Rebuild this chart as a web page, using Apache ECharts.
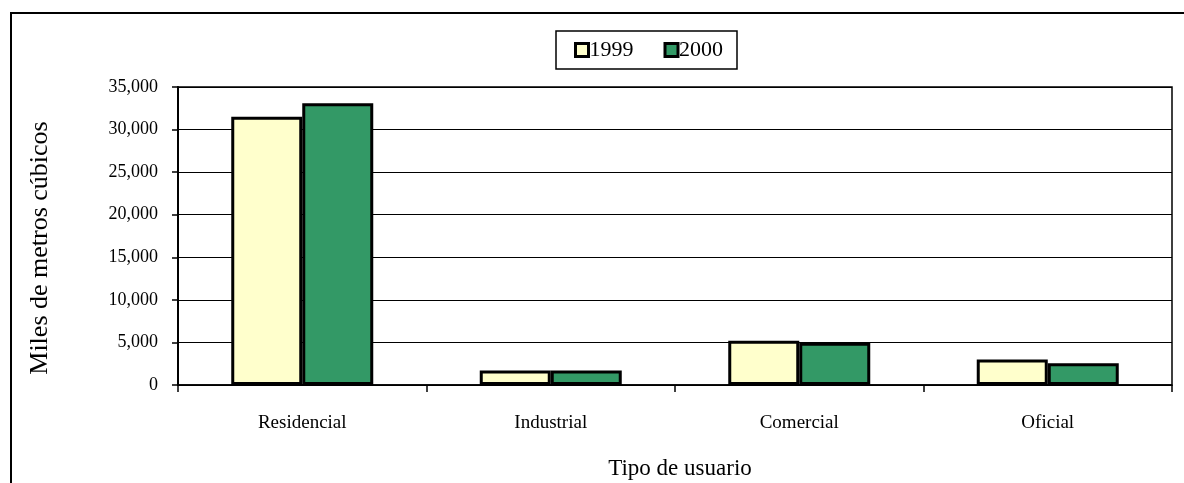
<!DOCTYPE html>
<html>
<head>
<meta charset="utf-8">
<script src="https://cdn.jsdelivr.net/npm/echarts@6/dist/echarts.min.js"></script>
<style>
html,body{margin:0;padding:0;background:#fff;overflow:hidden;}
#c{width:1184px;height:483px;}
</style>
</head>
<body>
<div id="c"></div>
<script>
var categories = ['Residencial', 'Industrial', 'Comercial', 'Oficial'];
var values1999 = [31500, 1700, 5200, 3000];
var values2000 = [33100, 1700, 4950, 2550];
var seriesNames = ['1999', '2000'];
var yTicks = [0, 5000, 10000, 15000, 20000, 25000, 30000, 35000];

var FONT = '"Liberation Serif", "Times New Roman", serif';
var chart = echarts.init(document.getElementById('c'), null, {renderer: 'canvas'});
chart.setOption({
  animation: false,
  backgroundColor: '#fff',
  graphic: [{
    type: 'rect', z: -1,
    shape: {x: 11, y: 13, width: 1300, height: 600},
    style: {fill: 'none', stroke: '#000', lineWidth: 2}
  }],
  legend: {
    data: seriesNames,
    left: 556, top: 31,
    padding: [8, 14, 8, 18],
    itemGap: 30,
    itemWidth: 13, itemHeight: 13,
    borderColor: '#000', borderWidth: 1.5,
    icon: 'rect',
    itemStyle: {borderColor: '#000', borderWidth: 3},
    textStyle: {fontFamily: FONT, fontSize: 22, color: '#000', padding: [0, 0, 0, -4]}
  },
  grid: {
    left: 178, right: 12, top: 87, bottom: 98,
    outerBoundsMode: 'none',
    containLabel: false,
    show: true, borderColor: '#000', borderWidth: 1.5, backgroundColor: 'transparent'
  },
  xAxis: {
    type: 'category',
    data: categories,
    name: 'Tipo de usuario',
    nameLocation: 'middle',
    nameGap: 72,
    nameTextStyle: {fontFamily: FONT, fontSize: 23, color: '#000', padding: [0, 0, 0, 10]},
    axisLine: {lineStyle: {color: '#000', width: 1.5}},
    axisTick: {show: true, length: 7, lineStyle: {color: '#000', width: 1.5}},
    axisLabel: {fontFamily: FONT, fontSize: 19, color: '#000', margin: 29}
  },
  yAxis: {
    type: 'value',
    min: yTicks[0], max: yTicks[yTicks.length - 1], interval: 5000,
    name: 'Miles de metros cúbicos',
    nameLocation: 'middle',
    nameGap: 125,
    nameTextStyle: {fontFamily: FONT, fontSize: 26, color: '#000', padding: [0, 24, 0, 0]},
    axisLine: {show: true, lineStyle: {color: '#000', width: 2}},
    axisTick: {show: true, length: 6, lineStyle: {color: '#000', width: 1.5}},
    splitLine: {show: true, lineStyle: {color: '#000', width: 1}},
    axisLabel: {
      fontFamily: FONT, fontSize: 18, color: '#000', margin: 20,
      formatter: function (v) { return v.toLocaleString('en-US'); }
    }
  },
  series: [{
    name: seriesNames[0], type: 'bar', data: values1999,
    barWidth: 71, barGap: '0%',
    itemStyle: {color: '#FFFFCC', borderColor: '#000', borderWidth: 3}
  }, {
    name: seriesNames[1], type: 'bar', data: values2000,
    barWidth: 71, barGap: '0%',
    itemStyle: {color: '#339966', borderColor: '#000', borderWidth: 3}
  }]
});
</script>
</body>
</html>
